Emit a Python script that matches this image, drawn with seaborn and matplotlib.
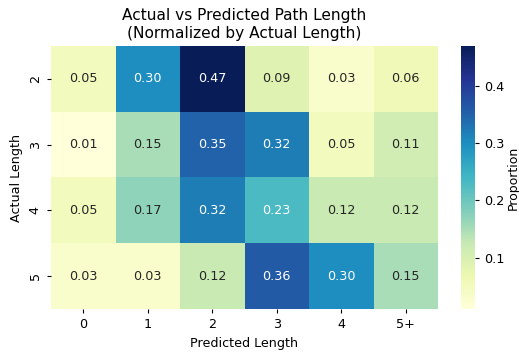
import matplotlib
matplotlib.use("Agg")
import matplotlib.pyplot as plt
import seaborn as sns
import pandas as pd
import numpy as np

actual_lengths = ["2", "3", "4", "5"]
predicted_lengths = ["0", "1", "2", "3", "4", "5+"]
row_2 = [0.05, 0.30, 0.47, 0.09, 0.03, 0.06]
row_3 = [0.01, 0.15, 0.35, 0.32, 0.05, 0.11]
row_4 = [0.05, 0.17, 0.32, 0.23, 0.12, 0.12]
row_5 = [0.03, 0.03, 0.12, 0.36, 0.30, 0.15]

df = pd.DataFrame([row_2, row_3, row_4, row_5], index=actual_lengths, columns=predicted_lengths)

plt.rcParams["font.size"] = 9.2
plt.rcParams["xtick.major.size"] = 3.2
plt.rcParams["ytick.major.size"] = 3.2

fig = plt.figure(figsize=(5.19, 3.52), dpi=100)
ax = fig.add_axes([0.0983, 0.1222, 0.7457, 0.7472])
cax = fig.add_axes([0.888, 0.1222, 0.027, 0.7472])
sns.heatmap(df, annot=True, fmt=".2f", cmap="YlGnBu", ax=ax, cbar_ax=cax,
            cbar_kws={"label": "Proportion"})
cax.yaxis.label.set_size(9.0)
cax.yaxis.labelpad = 1.5
ax.set_title("Actual vs Predicted Path Length\n(Normalized by Actual Length)")
ax.set_xlabel("Predicted Length")
ax.set_ylabel("Actual Length")
fig.savefig("out.png", dpi=100)
